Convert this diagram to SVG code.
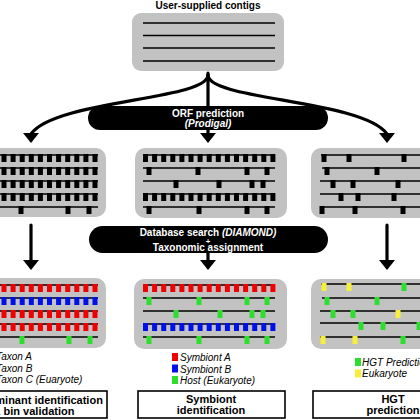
<svg xmlns="http://www.w3.org/2000/svg" width="420" height="420" viewBox="0 0 420 420">
<style>
.box{fill:#c2c2c2}
.ln{stroke:#000;stroke-width:1.6;fill:none}
.con{stroke:#000;stroke-width:3.2;fill:none;stroke-linecap:round}
.hd{fill:#000}
.t{font-family:"Liberation Sans",Arial,sans-serif}
.b{font-weight:bold}
.i{font-style:italic}
.w{fill:#fff}
.lab{fill:#fff;stroke:#000;stroke-width:1.6}
.R{fill:#f00000}
.B{fill:#0010e8}
.G{fill:#2ede2e}
.Y{fill:#f7ef3a}
</style>
<defs>
<g id="d11">
<rect x="0" y="-1" width="5" height="8"/><rect x="9.1" y="-1" width="5" height="8"/><rect x="18.2" y="-1" width="5" height="8"/><rect x="27.3" y="-1" width="5" height="8"/><rect x="36.4" y="-1" width="5" height="8"/><rect x="45.5" y="-1" width="5" height="8"/><rect x="54.6" y="-1" width="5" height="8"/><rect x="63.7" y="-1" width="5" height="8"/><rect x="72.8" y="-1" width="5" height="8"/><rect x="81.9" y="-1" width="5" height="8"/><rect x="91" y="-1" width="5" height="8"/>
</g>
<g id="d15">
<use href="#d11"/>
<rect x="100.1" y="-1" width="5" height="8"/><rect x="109.2" y="-1" width="5" height="8"/><rect x="118.3" y="-1" width="5" height="8"/><rect x="127.4" y="-1" width="5" height="8"/>
</g>
</defs>

<g id="title"><text class="t b" x="208" y="8.5" font-size="10" text-anchor="middle">User-supplied contigs</text></g>

<g id="contigs">
<rect class="box" x="132" y="13" width="152" height="58" rx="9"/>
<path class="ln" d="M143,23H275M143,35.5H275M143,48H275M143,61H275"/>
</g>

<g id="connectors">
<path class="con" d="M208,73V134"/>
<path class="con" d="M208,75C208,100 55,100 31,134"/>
<path class="con" d="M208,75C208,100 363,100 387,134"/>
<polygon class="hd" points="23,133 39,133 31,143"/>
<polygon class="hd" points="200,133 216,133 208,143"/>
<polygon class="hd" points="379,133 395,133 387,143"/>
<path class="con" d="M31,225V261M387,225V261M208,250V261"/>
<polygon class="hd" points="23,260 39,260 31,270"/>
<polygon class="hd" points="200,260 216,260 208,270"/>
<polygon class="hd" points="379,260 395,260 387,270"/>
</g>

<g id="orf-step">
<rect x="88" y="106" width="240" height="24" rx="12" fill="#000"/>
<text class="t b w" x="208" y="117" font-size="10" text-anchor="middle">ORF prediction</text>
<text class="t b i w" x="208" y="127" font-size="10" text-anchor="middle">(Prodigal)</text>
</g>

<g id="orf-left">
<rect class="box" x="-12" y="148" width="118" height="69" rx="10"/>
<path class="ln" d="M-2,155H98M-2,168H98M-2,181H98M-2,194H98M-2,207H98"/>
<use href="#d11" x="1.5" y="155"/><use href="#d11" x="1.5" y="168"/><use href="#d11" x="1.5" y="181"/><use href="#d11" x="1.5" y="194"/>
<rect x="18.5" y="206" width="5" height="8"/><rect x="65.5" y="206" width="5" height="8"/><rect x="86.5" y="206" width="5" height="8"/>
</g>

<g id="orf-middle">
<rect class="box" x="135" y="148" width="152" height="70" rx="10"/>
<path class="ln" d="M143,155H275M143,168H275M143,181H275M143,194H275M143,207H275"/>
<use href="#d15" x="143" y="155"/><use href="#d15" x="143" y="194"/>
<rect x="146.5" y="167" width="5" height="8"/><rect x="195.5" y="167" width="5" height="8"/><rect x="244.5" y="167" width="5" height="8"/><rect x="264.5" y="167" width="5" height="8"/>
<rect x="173.5" y="180" width="5" height="8"/><rect x="216.5" y="180" width="5" height="8"/><rect x="249.5" y="180" width="5" height="8"/><rect x="260.5" y="180" width="5" height="8"/>
<rect x="146.5" y="206" width="5" height="8"/><rect x="196.5" y="206" width="5" height="8"/><rect x="244.5" y="206" width="5" height="8"/><rect x="264.5" y="206" width="5" height="8"/>
</g>

<g id="orf-right">
<rect class="box" x="311" y="148" width="130" height="70" rx="10"/>
<path class="ln" d="M321,155H425M322,168H425M320,181H425M320,194H425M320,207H425"/>
<rect x="321.5" y="154" width="5" height="8"/><rect x="346.5" y="154" width="5" height="8"/><rect x="401.5" y="154" width="5" height="8"/>
<rect x="324.5" y="167" width="5" height="8"/><rect x="374.5" y="167" width="5" height="8"/>
<rect x="330.5" y="180" width="5" height="8"/><rect x="350.5" y="180" width="5" height="8"/><rect x="395.5" y="180" width="5" height="8"/>
<rect x="338.5" y="193" width="5" height="8"/><rect x="355.5" y="193" width="5" height="8"/><rect x="391.5" y="193" width="5" height="8"/>
<rect x="319.5" y="206" width="5" height="8"/><rect x="352.5" y="206" width="5" height="8"/><rect x="400.5" y="206" width="5" height="8"/>
</g>

<g id="db-step">
<rect x="89" y="226" width="239" height="27" rx="13.5" fill="#000"/>
<text class="t b w" x="208" y="236" font-size="10" text-anchor="middle">Database search <tspan class="i">(DIAMOND)</tspan></text>
<text class="t b w" x="208" y="243.5" font-size="8" text-anchor="middle">+</text>
<text class="t b w" x="208" y="251" font-size="10" text-anchor="middle">Taxonomic assignment</text>
</g>

<g id="tax-left">
<rect class="box" x="-12" y="278" width="118" height="70" rx="10"/>
<path class="ln" d="M-2,285H98M-2,298H98M-2,311H98M-2,324H98M-2,337H98"/>
<use href="#d11" x="1.5" y="285" class="R"/><use href="#d11" x="1.5" y="298" class="B"/><use href="#d11" x="1.5" y="311" class="R"/><use href="#d11" x="1.5" y="324" class="R"/>
<rect class="G" x="19.5" y="336" width="5" height="8"/><rect class="G" x="66.5" y="336" width="5" height="8"/><rect class="G" x="87.5" y="336" width="5" height="8"/>
</g>

<g id="tax-middle">
<rect class="box" x="134" y="279" width="153" height="70" rx="10"/>
<path class="ln" d="M143,285H275M143,298H275M143,311H275M143,324H275M143,337H275"/>
<use href="#d15" x="143" y="285" class="R"/><use href="#d15" x="143" y="324" class="B"/>
<g class="G">
<rect x="146.5" y="297" width="5" height="8"/><rect x="196.5" y="297" width="5" height="8"/><rect x="244.5" y="297" width="5" height="8"/><rect x="264.5" y="297" width="5" height="8"/>
<rect x="173.5" y="310" width="5" height="8"/><rect x="217.5" y="310" width="5" height="8"/><rect x="249.5" y="310" width="5" height="8"/><rect x="260.5" y="310" width="5" height="8"/>
<rect x="146.5" y="336" width="5" height="8"/><rect x="196.5" y="336" width="5" height="8"/><rect x="244.5" y="336" width="5" height="8"/><rect x="264.5" y="336" width="5" height="8"/>
</g>
</g>

<g id="tax-right">
<rect class="box" x="311" y="279" width="130" height="70" rx="10"/>
<path class="ln" d="M321,284H425M322,298H425M320,311H425M320,323H425M320,337H425"/>
<rect class="Y" x="321.5" y="283" width="5" height="8"/><rect class="Y" x="346.5" y="283" width="5" height="8"/><rect class="G" x="401.5" y="283" width="5" height="8"/>
<rect class="G" x="324.5" y="297" width="5" height="8"/><rect class="G" x="374.5" y="297" width="5" height="8"/>
<rect class="G" x="330.5" y="310" width="5" height="8"/><rect class="G" x="350.5" y="310" width="5" height="8"/><rect class="Y" x="395.5" y="310" width="5" height="8"/>
<rect class="G" x="358.5" y="322" width="5" height="8"/><rect class="G" x="380.5" y="322" width="5" height="8"/><rect class="G" x="416.5" y="322" width="5" height="8"/>
<rect class="Y" x="320.5" y="336" width="5" height="8"/><rect class="Y" x="352.5" y="336" width="5" height="8"/><rect class="G" x="400.5" y="336" width="5" height="8"/>
</g>

<g id="legend-left" class="t i" font-size="10">
<text x="-4" y="360">Taxon A</text>
<text x="-4" y="371.5">Taxon B</text>
<text x="-4" y="383">Taxon C (Euaryote)</text>
</g>

<g id="legend-middle" class="t i" font-size="10">
<rect class="R" x="172" y="353" width="6" height="8"/>
<rect class="B" x="172" y="364.5" width="6" height="8"/>
<rect class="G" x="172" y="376" width="6" height="8"/>
<text x="180" y="361">Symbiont A</text>
<text x="180" y="372.5">Symbiont B</text>
<text x="180" y="384">Host (Eukaryote)</text>
</g>

<g id="legend-right" class="t i" font-size="10">
<rect class="G" x="355" y="358" width="6" height="8"/>
<rect class="Y" x="355" y="369.5" width="6" height="8"/>
<text x="362" y="365.5">HGT Prediction</text>
<text x="362" y="377">Eukaryote</text>
</g>

<g id="label-left">
<rect class="lab" x="-40" y="391" width="147" height="27"/>
<text class="t b" x="33.5" y="403.5" font-size="11" text-anchor="middle">Contaminant identification</text>
<text class="t b" x="33.5" y="414.5" font-size="11" text-anchor="middle">&amp; bin validation</text>
</g>

<g id="label-middle">
<rect class="lab" x="138" y="391" width="147" height="27"/>
<text class="t b" x="211" y="402.5" font-size="11" text-anchor="middle">Symbiont</text>
<text class="t b" x="211" y="413.5" font-size="11" text-anchor="middle">identification</text>
</g>

<g id="label-right">
<rect class="lab" x="313" y="391" width="160" height="27"/>
<text class="t b" x="393" y="402.5" font-size="11" text-anchor="middle">HGT</text>
<text class="t b" x="393" y="413.5" font-size="11" text-anchor="middle">prediction</text>
</g>
</svg>
